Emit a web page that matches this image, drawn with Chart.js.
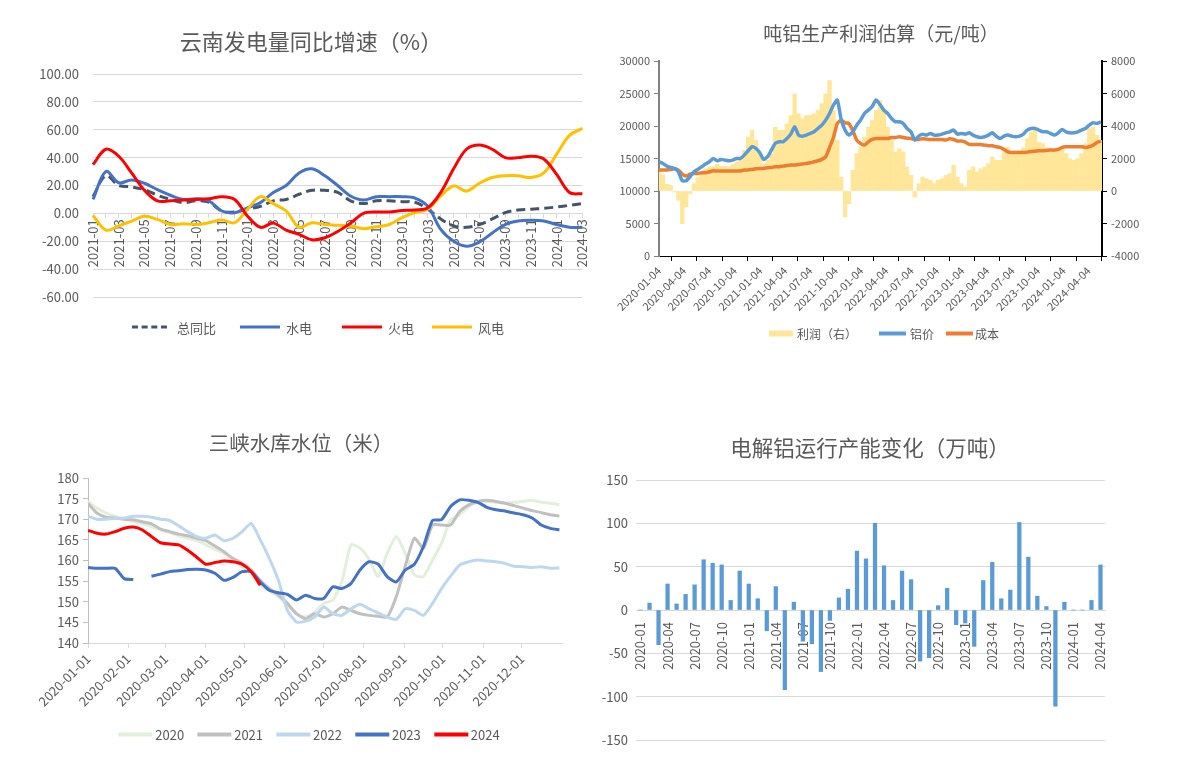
<!DOCTYPE html>
<html>
<head>
<meta charset="utf-8">
<script src="https://cdn.jsdelivr.net/npm/chart.js@4.4.1/dist/chart.umd.min.js"></script>
<style>
body{margin:0;background:#fff;width:1191px;height:774px;position:relative;overflow:hidden;font-family:"Noto Sans CJK SC",sans-serif;color:#595959}
canvas{position:absolute}
.title{position:absolute;white-space:nowrap;transform:translate(-50%,-50%)}
.legend{position:absolute;display:flex;align-items:center;white-space:nowrap;transform:translate(-50%,-50%)}
.legend .item{display:flex;align-items:center}
.legend .sw{display:inline-block}
</style>
</head>
<body>
<canvas id="c1" width="600" height="345" style="left:0;top:0"></canvas>
<canvas id="c2" width="591" height="350" style="left:600px;top:0"></canvas>
<canvas id="c3" width="600" height="374" style="left:0;top:400px"></canvas>
<canvas id="c4" width="591" height="374" style="left:600px;top:400px"></canvas>

<div class="title" style="left:311px;top:40px;font-size:22px">云南发电量同比增速（%）</div>
<div class="title" style="left:881px;top:32px;font-size:19px">吨铝生产利润估算（元/吨）</div>
<div class="title" style="left:301px;top:442px;font-size:20.5px">三峡水库水位（米）</div>
<div class="title" style="left:870px;top:446px;font-size:21.5px">电解铝运行产能变化（万吨）</div>

<div class="legend" style="left:318px;top:327px;font-size:13px">
  <div class="item" style="margin-right:24px"><span class="sw" style="width:35px;border-top:3px dashed #44546a;margin-right:10px"></span>总同比</div>
  <div class="item" style="margin-right:30px"><span class="sw" style="width:40px;border-top:3px solid #4472c4;margin-right:6px"></span>水电</div>
  <div class="item" style="margin-right:18px"><span class="sw" style="width:40px;border-top:3px solid #ff0000;margin-right:6px"></span>火电</div>
  <div class="item"><span class="sw" style="width:40px;border-top:3px solid #ffc000;margin-right:6px"></span>风电</div>
</div>
<div class="legend" style="left:884px;top:333px;font-size:12px">
  <div class="item" style="margin-right:22px"><span class="sw" style="width:24px;height:6px;background:#ffe699;margin-right:4px"></span>利润（右）</div>
  <div class="item" style="margin-right:12px"><span class="sw" style="width:27px;height:4px;background:#5b9bd5;margin-right:4px"></span>铝价</div>
  <div class="item"><span class="sw" style="width:27px;height:4px;background:#ed7d31;margin-right:2px"></span>成本</div>
</div>
<div class="legend" style="left:309px;top:734px;font-size:13px">
  <div class="item" style="margin-right:13px"><span class="sw" style="width:34px;border-top:4px solid #e2efda;margin-right:3px"></span>2020</div>
  <div class="item" style="margin-right:13px"><span class="sw" style="width:34px;border-top:4px solid #c0c0c0;margin-right:3px"></span>2021</div>
  <div class="item" style="margin-right:13px"><span class="sw" style="width:34px;border-top:4px solid #bdd7ee;margin-right:3px"></span>2022</div>
  <div class="item" style="margin-right:13px"><span class="sw" style="width:34px;border-top:4px solid #4472c4;margin-right:3px"></span>2023</div>
  <div class="item"><span class="sw" style="width:34px;border-top:4px solid #ff0000;margin-right:3px"></span>2024</div>
</div>

<script>
// ---------- 云南发电量同比增速 ----------
const months1 = ['2021-01','2021-02','2021-03','2021-04','2021-05','2021-06','2021-07','2021-08','2021-09','2021-10','2021-11','2021-12',
  '2022-01','2022-02','2022-03','2022-04','2022-05','2022-06','2022-07','2022-08','2022-09','2022-10','2022-11','2022-12',
  '2023-01','2023-02','2023-03','2023-04','2023-05','2023-06','2023-07','2023-08','2023-09','2023-10','2023-11','2023-12',
  '2024-01','2024-02','2024-03'];
const totalYoY = [12,27,20,19,17,13,10,7.7,9,8,1.7,1,3,5,9,10,13.7,16.6,16.6,15,9,7,9,9,8.4,8,3,-4,-9,-10,-8,-4,0.5,2.4,3,3.6,4.6,5.8,7];
const hydro = [10,30,22,24,21.6,17,13,10,10.5,9,1.7,0.5,4,7.7,15,20,29,32,27,20,12.5,9.6,12,12,12,11,5,-11.5,-20,-23.5,-20.6,-14,-8,-5.5,-5,-5.5,-8,-10,-10];
const thermal = [35,46,41,29,16.5,9,9,9.6,10,10.5,12,10,-2,-10,-7,-12,-15,-19,-17.5,-13,-7,0,1,1,2,2.4,4,15,32,46,49,46,40,40,41,39,28,15,14];
const wind = [-1.5,-12,-9,-5.5,-2,-4.3,-8,-7.4,-8,-6.7,-4.8,-6.7,3,12,7,1.7,-10,-6.7,-8,-8.6,-9,-11,-9.6,-8,-3,0.5,3,12.5,19.7,16,21.6,25.7,27,27,25.7,29,42.5,56,61];

// ---------- 吨铝生产利润估算 (every 14 days from 2020-01-04) ----------
const ticks2 = ['2020-01-04','2020-04-04','2020-07-04','2020-10-04','2021-01-04','2021-04-04','2021-07-04','2021-10-04','2022-01-04',
  '2022-04-04','2022-07-04','2022-10-04','2023-01-04','2023-04-04','2023-07-04','2023-10-04','2024-01-04','2024-04-04'];
const price = [14500,14240,13830,13630,13470,12960,11580,11580,12190,12960,13320,13730,14140,14500,15010,14650,14860,14750,14650,14750,
  15010,15010,15520,16190,16800,16550,15880,14860,15270,16290,17320,17570,17570,18080,18750,19880,18600,18440,18600,18850,
  19110,19620,20130,20900,21930,23200,24000,21000,19370,18600,19110,20130,20900,21930,22440,23000,24000,
  23300,22440,21930,21160,20650,20650,20390,19620,19110,17830,18440,18750,18600,18850,18600,18600,18750,18950,19110,19370,
  18750,18850,18750,18950,18600,18340,18240,18340,18600,18950,18440,18080,18440,18600,18440,18340,18440,18750,19370,19620,
  19620,19370,19110,19110,18850,18600,18950,19470,19110,18950,18950,19110,19370,19620,20130,20490,20390,20650];
const cost = [13220,13220,13220,13320,13420,13220,12600,12300,12600,12700,12700,12810,12810,12960,13120,13070,13070,13070,13070,13070,
  13070,13070,13220,13220,13320,13420,13470,13470,13580,13630,13730,13730,13830,13930,13990,13990,14090,14140,14240,14340,
  14500,14650,14860,15270,16700,18240,20390,20900,20490,20390,19270,17830,17320,17060,17570,17930,18080,
  18080,18080,18080,18240,18240,18340,18240,18130,18080,17930,17930,18030,17980,17930,17930,17930,17930,17830,18030,17930,
  17680,17680,17530,17170,17170,17160,17160,17060,16960,16960,16800,16700,16390,16030,15930,15930,15930,15930,15980,16080,
  16130,16190,16190,16240,16290,16290,16390,16700,16800,16800,16800,16800,16800,16700,16800,17060,17470,17680];
const profit = [1270,1000,410,350,-60,-570,-2010,-980,-160,450,820,1070,1370,1480,1520,1640,1520,1520,1480,1640,
  1780,1890,2500,3320,3730,3110,2300,1680,1890,2300,3930,3730,3730,4140,4650,5980,4750,4450,4650,4650,
  4750,4960,5370,5980,6800,4960,3110,860,-1600,-780,1270,2300,2700,3320,3930,4340,4960,
  5570,4960,3930,3110,2400,2600,2400,1480,960,-370,450,860,760,660,450,660,760,960,1070,1580,
  860,450,250,1270,1480,1170,1370,1480,1680,2090,1890,1890,2400,2700,2400,2340,2500,2660,3220,3630,
  3730,3010,2910,2660,2600,2540,2660,2600,2300,1990,1890,1990,2300,2910,3830,3930,3420,3110];

// ---------- 三峡水库水位 (weekly from 01-01) ----------
const ticks3 = ['2020-01-01','2020-02-01','2020-03-01','2020-04-01','2020-05-01','2020-06-01','2020-07-01','2020-08-01',
  '2020-09-01','2020-10-01','2020-11-01','2020-12-01'];
const level2020 = [174.3,172.7,171.5,170.7,170.0,169.4,168.9,168.2,167.4,166.8,166.0,165.4,164.8,163.8,162.7,161.7,160.1,158.5,156.9,154.0,
  152.6,151.2,149.2,147.1,146.3,147.5,149.6,150.4,154.8,163.8,163.0,160.3,156.1,161.7,165.8,161.7,156.5,156.1,160.1,164.2,
  169.9,171.1,173.1,174.1,174.3,174.1,173.9,174.1,174.3,174.6,174.1,173.9,173.5];
const level2021 = [173.9,171.5,170.5,170.3,170.0,169.9,169.4,168.9,167.6,167.0,166.4,166.0,165.4,164.8,163.5,162.1,160.5,159.3,157.7,155.2,
  153.2,151.6,149.6,147.1,145.9,147.1,146.3,147.1,148.7,147.9,147.1,146.7,146.5,146.3,151.2,158.7,165.4,163.0,168.6,168.6,
  168.6,171.9,173.5,174.3,174.6,174.3,173.9,173.3,172.7,172.1,171.6,171.1,170.8];
const level2022 = [170.7,170.0,170.0,170.2,170.3,170.7,170.7,170.5,170.0,169.7,168.4,167.0,165.8,165.4,166.2,164.8,165.4,167.0,169.0,165.0,
  160.5,155.2,147.9,145.1,145.3,146.3,148.7,147.1,146.7,148.3,149.4,148.3,147.3,146.3,145.7,148.3,147.9,146.7,149.6,153.2,
  156.2,158.9,159.7,160.1,159.9,159.7,159.3,158.6,158.5,158.3,158.5,158.1,158.2];
const level2023 = [158.3,158.1,158.1,158.1,155.6,155.4,null,156.2,156.7,157.3,157.5,157.8,157.9,157.7,156.9,155.2,155.9,157.3,157.3,154.8,
  152.8,152.2,151.8,150.4,151.6,150.8,150.8,153.6,153.2,154.4,157.7,159.7,159.1,156.1,154.8,157.7,159.1,163.4,169.7,169.9,
  173.1,174.7,174.6,174.1,172.9,172.3,172.0,171.5,171.1,170.3,168.6,167.8,167.4];
const level2024 = [167.3,166.6,166.4,167.0,167.8,168.1,167.4,165.8,164.3,164.0,163.8,162.5,160.8,159.1,159.5,159.9,159.7,159.1,157.3,154.0];

// ---------- 电解铝运行产能变化 ----------
const months4 = ['2020-01','2020-02','2020-03','2020-04','2020-05','2020-06','2020-07','2020-08','2020-09','2020-10','2020-11','2020-12',
  '2021-01','2021-02','2021-03','2021-04','2021-05','2021-06','2021-07','2021-08','2021-09','2021-10','2021-11','2021-12',
  '2022-01','2022-02','2022-03','2022-04','2022-05','2022-06','2022-07','2022-08','2022-09','2022-10','2022-11','2022-12',
  '2023-01','2023-02','2023-03','2023-04','2023-05','2023-06','2023-07','2023-08','2023-09','2023-10','2023-11','2023-12',
  '2024-01','2024-02','2024-03','2024-04'];
const capChange = [0,8,-40,30,7,18,29,58,54,52,11,45,30,13,-24,27,-92,9,-36,-39,-71,-12,14,24,68,59,100,51,11,45,35,-59,-55,5,25,-17,
  -15,-42,34,55,13,23,101,61,16,4,-111,9,0,0,11,52];

Chart.defaults.font.family = '"Noto Sans CJK SC", sans-serif';
Chart.defaults.color = '#595959';
Chart.defaults.animation = false;
Chart.defaults.responsive = false;
Chart.defaults.devicePixelRatio = 1;
Chart.defaults.plugins.legend.display = false;
Chart.defaults.plugins.tooltip.enabled = false;
Chart.defaults.elements.point.radius = 0;

const dayOf = (s, base) => Math.round((Date.parse(s) - Date.parse(base)) / 86400000);

/** Chart 1 */
new Chart(document.getElementById('c1'), {
  type: 'line',
  data: {
    labels: months1,
    datasets: [
      {label: '总同比', data: totalYoY, borderColor: '#44546a', borderDash: [9, 5], borderWidth: 3, order: 3},
      {label: '水电', data: hydro, borderColor: '#4472c4', borderWidth: 3, order: 2},
      {label: '火电', data: thermal, borderColor: '#ff0000', borderWidth: 3, order: 0},
      {label: '风电', data: wind, borderColor: '#ffc000', borderWidth: 3, order: 1}
    ]
  },
  options: {
    layout: {padding: {left: 0, top: 74, right: 13, bottom: 48}},
    elements: {line: {tension: 0.35}},
    scales: {
      x: {
        position: {y: 0},
        grid: {drawOnChartArea: false, color: '#d9d9d9', tickLength: 4},
        border: {color: '#d9d9d9'},
        ticks: {autoSkip: false, minRotation: 90, maxRotation: 90, padding: 2, font: {size: 13},
          callback: function(v, i) { return i % 2 === 0 ? this.getLabelForValue(v) : ''; }}
      },
      y: {
        min: -60, max: 100,
        ticks: {stepSize: 20, padding: 14, font: {size: 13}, callback: v => v.toFixed(2)},
        grid: {color: '#d9d9d9', drawTicks: false},
        border: {display: false},
        afterFit: s => { s.width = 93; }
      }
    }
  }
});

/** Chart 2 */
const days2 = price.map((_, i) => i * 14);
const tickDays2 = ticks2.map(s => dayOf(s, ticks2[0]));
const pts2 = arr => arr.map((v, i) => ({x: days2[i], y: v}));
new Chart(document.getElementById('c2'), {
  type: 'bar',
  data: {
    datasets: [
      {type: 'line', label: '铝价', data: pts2(price), borderColor: '#5b9bd5', borderWidth: 3.5, yAxisID: 'y', order: 0, tension: 0.2},
      {type: 'line', label: '成本', data: pts2(cost), borderColor: '#ed7d31', borderWidth: 3.5, yAxisID: 'y', order: 1, tension: 0.2},
      {type: 'bar', label: '利润（右）', data: pts2(profit), backgroundColor: '#ffe699', yAxisID: 'y1', order: 2, barThickness: 3.7}
    ]
  },
  options: {
    layout: {padding: {left: 0, top: 61, right: 0, bottom: 0}},
    scales: {
      x: {
        type: 'linear', min: 0, max: 1600, offset: false,
        afterBuildTicks: s => { s.ticks = tickDays2.map(v => ({value: v})); },
        ticks: {autoSkip: false, minRotation: 45, maxRotation: 45, font: {size: 11},
          callback: v => ticks2[tickDays2.indexOf(v)]},
        grid: {drawOnChartArea: false, color: '#000', tickLength: 5},
        border: {color: '#000'},
        afterFit: s => { s.height = 94; }
      },
      y: {
        position: 'left', min: 0, max: 30000,
        ticks: {stepSize: 5000, font: {size: 11}, padding: 4, callback: v => String(v)},
        grid: {drawOnChartArea: false, color: '#808080', tickLength: 5},
        border: {color: '#808080', width: 2},
        afterFit: s => { s.width = 59; }
      },
      y1: {
        position: 'right', min: -4000, max: 8000,
        ticks: {stepSize: 2000, font: {size: 11}, padding: 4, callback: v => String(v)},
        grid: {drawOnChartArea: false, color: '#000', tickLength: 5},
        border: {color: '#000', width: 2},
        afterFit: s => { s.width = 89; }
      }
    }
  }
});

/** Chart 3 */
const days3 = level2020.map((_, i) => i * 7);
const tickDays3 = ticks3.map(s => dayOf(s, ticks3[0]));
const pts3 = arr => arr.map((v, i) => ({x: days3[i], y: v}));
new Chart(document.getElementById('c3'), {
  type: 'line',
  data: {
    datasets: [
      {label: '2020', data: pts3(level2020), borderColor: '#e2efda', borderWidth: 3, order: 4},
      {label: '2021', data: pts3(level2021), borderColor: '#c0c0c0', borderWidth: 3, order: 3},
      {label: '2022', data: pts3(level2022), borderColor: '#bdd7ee', borderWidth: 3, order: 2},
      {label: '2023', data: pts3(level2023), borderColor: '#4472c4', borderWidth: 3, order: 1},
      {label: '2024', data: pts3(level2024), borderColor: '#ff0000', borderWidth: 3, order: 0}
    ]
  },
  options: {
    spanGaps: false,
    layout: {padding: {left: 0, top: 78, right: 38, bottom: 0}},
    elements: {line: {tension: 0.2}},
    scales: {
      x: {
        type: 'linear', min: 0, max: 366,
        afterBuildTicks: s => { s.ticks = tickDays3.map(v => ({value: v})); },
        ticks: {autoSkip: false, minRotation: 45, maxRotation: 45, font: {size: 13},
          callback: v => ticks3[tickDays3.indexOf(v)]},
        grid: {drawOnChartArea: false, color: '#d9d9d9', tickLength: 5},
        border: {color: '#d9d9d9'},
        afterFit: s => { s.height = 131; }
      },
      y: {
        min: 140, max: 180,
        ticks: {stepSize: 5, font: {size: 13}, padding: 4},
        grid: {drawOnChartArea: false, color: '#bfbfbf', tickLength: 5},
        border: {color: '#bfbfbf'},
        afterFit: s => { s.width = 88; }
      }
    }
  }
});

/** Chart 4 */
new Chart(document.getElementById('c4'), {
  type: 'bar',
  data: {
    labels: months4,
    datasets: [{label: '运行产能变化', data: capChange, backgroundColor: '#5b9bd5', barThickness: 3.6}]
  },
  options: {
    layout: {padding: {left: 0, top: 80, right: 86, bottom: 34}},
    scales: {
      x: {
        position: {y: 0},
        grid: {display: false},
        border: {color: '#d9d9d9'},
        ticks: {autoSkip: false, minRotation: 90, maxRotation: 90, padding: 4, font: {size: 13},
          callback: function(v, i) { return i % 3 === 0 ? this.getLabelForValue(v) : ''; }}
      },
      y: {
        min: -150, max: 150,
        ticks: {stepSize: 50, padding: 8, font: {size: 13}},
        grid: {color: '#d9d9d9', drawTicks: false},
        border: {display: false},
        afterFit: s => { s.width = 36; }
      }
    }
  }
});
</script>
</body>
</html>
